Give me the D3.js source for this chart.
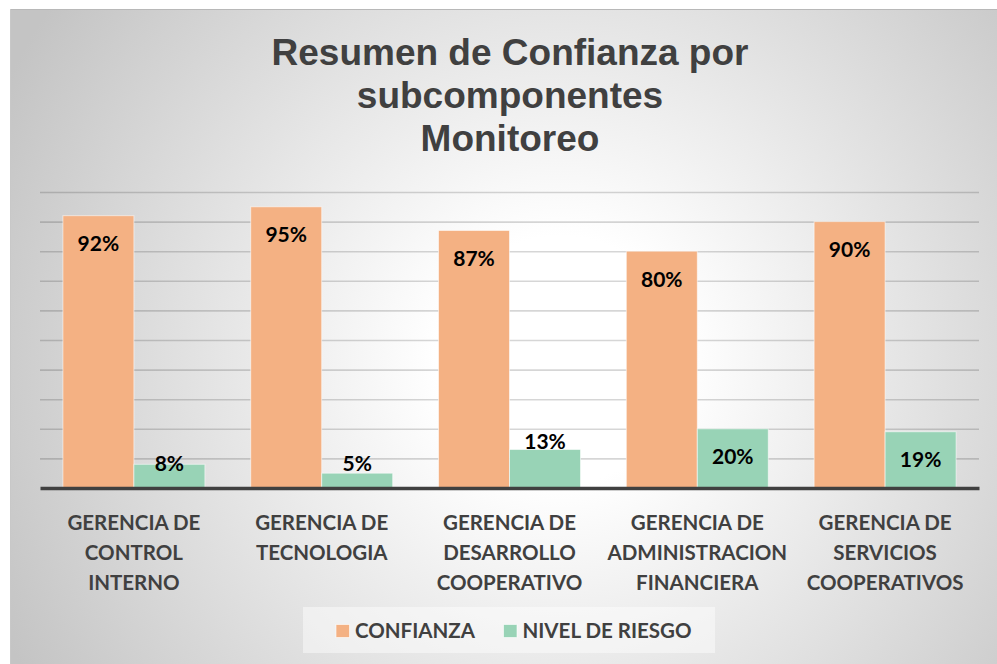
<!DOCTYPE html>
<html>
<head>
<meta charset="utf-8">
<script src="https://cdn.jsdelivr.net/npm/d3@7"></script>
<style>
  html, body { margin: 0; padding: 0; background: #ffffff; }
  svg { display: block; }
</style>
</head>
<body>
<svg id="chart" width="997" height="664"></svg>
<script>
// Monitoring subcomponents: confidence vs. risk level per department
const titleLines = ["Resumen de Confianza por", "subcomponentes", "Monitoreo"];
const categories = [
  "GERENCIA DE|CONTROL|INTERNO",
  "GERENCIA DE|TECNOLOGIA",
  "GERENCIA DE|DESARROLLO|COOPERATIVO",
  "GERENCIA DE|ADMINISTRACION|FINANCIERA",
  "GERENCIA DE|SERVICIOS|COOPERATIVOS"
];
const seriesNames = ["CONFIANZA", "NIVEL DE RIESGO"];
const confianza = [0.92, 0.95, 0.87, 0.80, 0.90];
const nivelRiesgo = [0.08, 0.05, 0.13, 0.20, 0.19];
const seriesColors = ["#f4b183", "#98d3b6"];
const yTicks = [0, 0.1, 0.2, 0.3, 0.4, 0.5, 0.6, 0.7, 0.8, 0.9, 1.0];

const W = 997, H = 664;
const plot = { left: 40, right: 979, top: 192, bottom: 488 };
const svg = d3.select("#chart");

// Chart area background: soft radial fade from white to gray
const defs = svg.append("defs");
const grad = defs.append("radialGradient")
  .attr("id", "bgGrad")
  .attr("gradientUnits", "userSpaceOnUse")
  .attr("cx", 560).attr("cy", 360).attr("r", 620);
grad.append("stop").attr("offset", 0).attr("stop-color", "#ffffff");
grad.append("stop").attr("offset", 0.2).attr("stop-color", "#ffffff");
grad.append("stop").attr("offset", 1).attr("stop-color", "#c4c4c4");

svg.append("rect")
  .attr("x", 10).attr("y", 9).attr("width", W - 10).attr("height", H - 9)
  .attr("fill", "url(#bgGrad)");
svg.append("line")
  .attr("x1", 10).attr("x2", W).attr("y1", 9.5).attr("y2", 9.5)
  .attr("stroke", "#b8b8b8").attr("stroke-width", 1);
svg.append("line")
  .attr("x1", 10.5).attr("x2", 10.5).attr("y1", 9).attr("y2", H)
  .attr("stroke", "#c8c8c8").attr("stroke-width", 1);

// Title
const title = svg.append("text")
  .attr("text-anchor", "middle")
  .attr("font-family", "'Liberation Sans', Arial, sans-serif")
  .attr("font-weight", "bold")
  .attr("font-size", 37)
  .attr("fill", "#404040");
titleLines.forEach((t, i) => {
  title.append("tspan").attr("x", 510).attr("y", 65 + i * 43).text(t);
});

// Scales
const x0 = d3.scaleBand()
  .domain(categories)
  .range([plot.left, plot.right])
  .paddingInner(0.244)
  .paddingOuter(0.122);
const x1 = d3.scaleBand()
  .domain(seriesNames)
  .range([0, x0.bandwidth()]);
const y = d3.scaleLinear().domain([0, 1]).range([plot.bottom, plot.top]);

// Horizontal gridlines
const yAxis = d3.axisLeft(y)
  .tickValues(yTicks.filter(v => v > 0))
  .tickSize(-(plot.right - plot.left))
  .tickFormat("");
const gGrid = svg.append("g")
  .attr("transform", `translate(${plot.left},0)`)
  .call(yAxis);
gGrid.select(".domain").remove();
gGrid.selectAll(".tick line")
  .attr("stroke", "#000")
  .attr("stroke-opacity", 0.16)
  .attr("stroke-width", 1.6);

// Bars
const rows = categories.map((c, i) => ({
  cat: c,
  values: [confianza[i], nivelRiesgo[i]]
}));
const groups = svg.append("g").selectAll("g")
  .data(rows)
  .join("g")
  .attr("transform", d => `translate(${x0(d.cat)},0)`);

groups.selectAll("rect")
  .data(d => d.values.map((v, k) => ({ series: seriesNames[k], k, v })))
  .join("rect")
  .attr("x", d => x1(d.series))
  .attr("y", d => y(d.v))
  .attr("width", x1.bandwidth())
  .attr("height", d => y(0) - y(d.v))
  .attr("fill", d => seriesColors[d.k])
  .attr("stroke", "rgba(255,255,255,0.55)")
  .attr("stroke-width", 1);

// Value labels
function labelCenter(d) {
  const top = y(d.v);
  if (d.k === 0 || d.v >= 0.15) return top + 28;   // inside the bar end
  if (d.v >= 0.1) return top - 8;                   // just above the bar
  return y(0) - 25;                                  // short bars: above the axis
}
groups.selectAll("text.val")
  .data(d => d.values.map((v, k) => ({ series: seriesNames[k], k, v })))
  .join("text")
  .attr("class", "val")
  .attr("x", d => x1(d.series) + x1.bandwidth() / 2)
  .attr("y", d => labelCenter(d))
  .attr("dy", "0.36em")
  .attr("text-anchor", "middle")
  .attr("font-family", "Lato, 'Open Sans', sans-serif")
  .attr("font-weight", "bold")
  .attr("font-size", 21)
  .attr("fill", "#000")
  .text(d => d3.format(".0%")(d.v));

// Baseline axis
const xAxis = d3.axisBottom(x0).tickSize(0).tickFormat("");
const gX = svg.append("g")
  .attr("transform", `translate(0,${plot.bottom})`)
  .call(xAxis);
gX.select(".domain")
  .attr("stroke", "#404040")
  .attr("stroke-width", 3.5);

// Category labels (multi-line)
const catLabels = svg.append("g").selectAll("text")
  .data(categories)
  .join("text")
  .attr("text-anchor", "middle")
  .attr("font-family", "Lato, 'Open Sans', sans-serif")
  .attr("font-weight", "bold")
  .attr("font-size", 20.5)
  .attr("fill", "#404040");
catLabels.each(function (c) {
  const cx = x0(c) + x0.bandwidth() / 2;
  c.split("|").forEach((line, i) => {
    d3.select(this).append("tspan")
      .attr("x", cx)
      .attr("y", 529.5 + i * 30.3)
      .text(line);
  });
});

// Legend
const legend = svg.append("g");
legend.append("rect")
  .attr("x", 303).attr("y", 607).attr("width", 412).attr("height", 46)
  .attr("fill", "#ffffff").attr("fill-opacity", 0.45);
const legendX = [336, 503.5];
seriesNames.forEach((name, i) => {
  legend.append("rect")
    .attr("x", legendX[i]).attr("y", 624.5)
    .attr("width", 13.5).attr("height", 13)
    .attr("fill", seriesColors[i])
    .attr("stroke", "rgba(255,255,255,0.6)")
    .attr("stroke-width", 1);
  legend.append("text")
    .attr("x", legendX[i] + 19)
    .attr("y", 637.5)
    .attr("font-family", "Lato, 'Open Sans', sans-serif")
    .attr("font-weight", "bold")
    .attr("font-size", 20.5)
    .attr("fill", "#404040")
    .text(name);
});
</script>
</body>
</html>
